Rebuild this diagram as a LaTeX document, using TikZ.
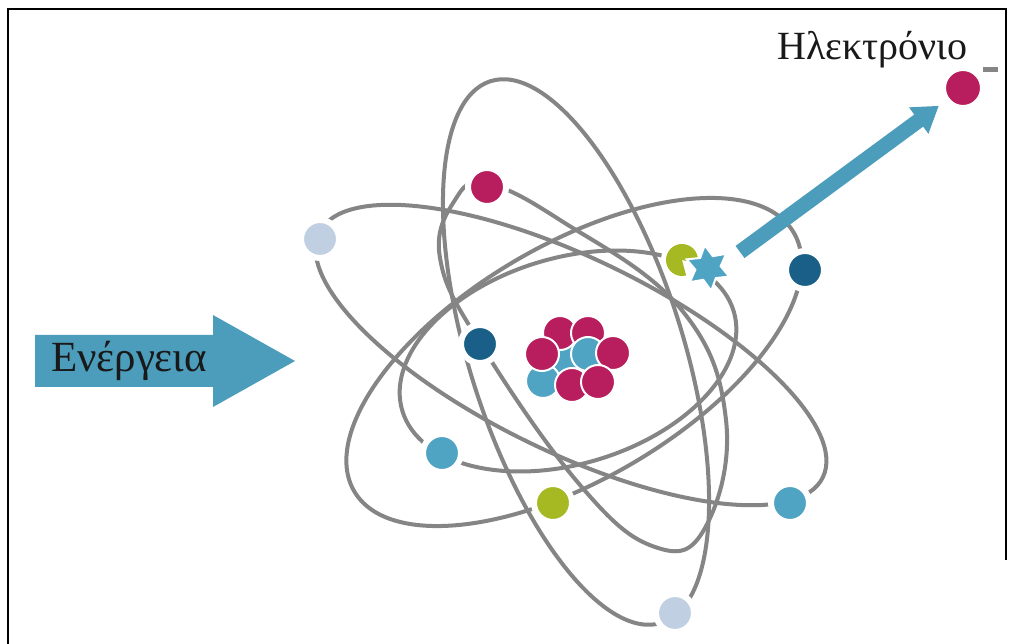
\documentclass[tikz,border=0pt]{standalone}
\usepackage{fontspec}
\setmainfont{Liberation Serif}
\usepackage{tikz}
\usetikzlibrary{arrows.meta, shapes.geometric}

\definecolor{orbitgray}{RGB}{133,133,133}
\definecolor{magentaE}{RGB}{184,29,94}
\definecolor{mistE}{RGB}{192,208,226}
\definecolor{limeE}{RGB}{166,184,34}
\definecolor{navyE}{RGB}{26,95,136}
\definecolor{tealE}{RGB}{79,164,196}
\definecolor{arrowblue}{RGB}{76,157,188}

\begin{document}
\begin{tikzpicture}[
  x=1pt, y=-1pt,
  orbit/.style={draw=orbitgray, line width=4pt},
  electron/.style={circle, fill=#1, draw=white, line width=6pt, minimum size=38pt, inner sep=0pt},
  nucleon/.style={circle, fill=#1, draw=white, line width=2pt, minimum size=34pt, inner sep=0pt},
  greektext/.style={inner sep=0pt, anchor=base west, text=black!90},
  eject/.style={arrowblue, line width=15pt, -{Triangle[length=25pt, width=31pt]}}
]
\useasboundingbox (0,0) rectangle (1010,644);
\fill[white] (0,0) rectangle (1010,644);
\draw[line width=2.5pt] (8,644) -- (8,9) -- (1006,9) -- (1006,560);

% orbits
\draw[orbit, shift={(571,355)}, rotate=-25.9] (0,0) ellipse [x radius=280pt, y radius=97pt];
\draw[orbit, shift={(574,362)}, rotate=30.5] (0,0) ellipse [x radius=255pt, y radius=117pt];
\draw[orbit, shift={(568,361)}, rotate=16.7] (0,0) ellipse [x radius=173pt, y radius=103pt];
\draw[orbit, shift={(576,352)}, rotate=17.5] (0,0) ellipse [x radius=107pt, y radius=284pt];
\draw[orbit] plot[smooth cycle, tension=0.7] coordinates {(487,184) (560,220) (680,308) (726,420) (705,528) (655,547) (580,485) (480,343) (440,258) (455,200)};

% nucleus
\foreach \c/\p [count=\i] in {tealE/{(564,357)}, tealE/{(543,381)}, magentaE/{(560,333)}, magentaE/{(588,333)},
    magentaE/{(542,354)}, tealE/{(588,354)}, magentaE/{(613,353)}, magentaE/{(572,385)}, magentaE/{(598,382)}}
  \node[nucleon=\c] (nuc\i) at \p {};

% electrons on the orbits
\node[electron=mistE] (e1) at (320,239) {};
\node[electron=magentaE] (e2) at (487,187) {};
\node[electron=navyE] (e3) at (805,270) {};
\node[electron=navyE] (e4) at (480,344) {};
\node[electron=tealE] (e5) at (442,453) {};
\node[electron=limeE] (e6) at (553,503) {};
\node[electron=tealE] (e7) at (790,503) {};
\node[electron=mistE] (e8) at (675,613) {};

% the electron being hit
\fill[white] (682,260) circle (21pt);
\fill[limeE] (682,260) -- ++(-12:16pt) arc[start angle=-12, end angle=285, radius=16pt] -- cycle;
\node[star, star points=6, star point ratio=1.8, fill=tealE, draw=white, line width=2pt,
  minimum size=46pt, inner sep=0pt, rotate=8] (spark) at (708,268) {};

% free electron
\node[electron=magentaE, minimum size=40pt] (free) at (963,88) {};
\node[fill=orbitgray, minimum width=15pt, minimum height=5pt, inner sep=0pt] (charge) at (990,70) {};
\coordinate (kick) at (740,252);
\draw[eject, shorten >=7pt] (kick) -- (free);

% incoming energy
\fill[arrowblue] (35,335) -- (213,335) -- (213,315) -- (295,361) -- (213,407) -- (213,387) -- (35,387) -- cycle;
\node[greektext, font=\fontsize{43}{46}\selectfont] (energy) at (51,372) {Ενέργεια};
\node[greektext, font=\fontsize{40}{44}\selectfont] (elabel) at (777,60) {Ηλεκτρόνιο};
\end{tikzpicture}
\end{document}
